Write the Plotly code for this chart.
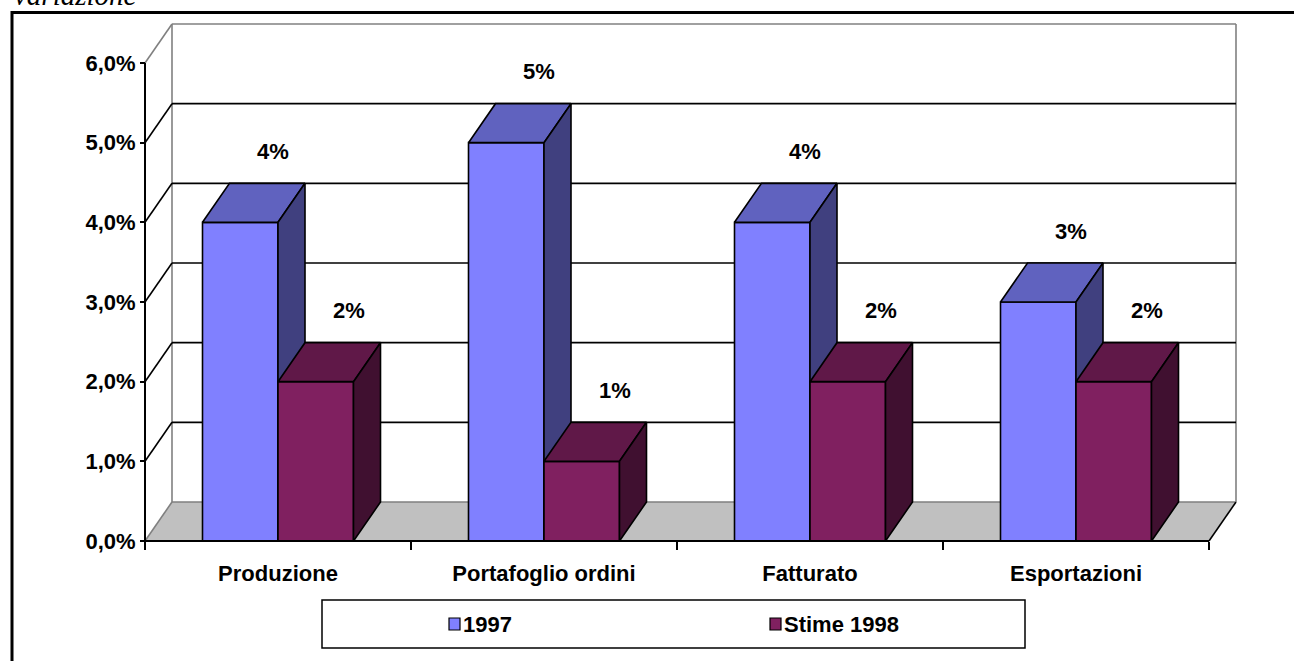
import plotly.graph_objects as go

# ---- data -------------------------------------------------------------
categories = ["Produzione", "Portafoglio ordini", "Fatturato", "Esportazioni"]
series_names = ["1997", "Stime 1998"]
values_1997 = [4, 5, 4, 3]
values_1998 = [2, 1, 2, 2]
y_ticks = [0, 1, 2, 3, 4, 5, 6]

# ---- styling / geometry -------------------------------------------------
W, H = 1294, 661
FONT = "Liberation Sans, Arial, sans-serif"

# pixel layout of the front plane of the chart
FRONT_L, FRONT_R = 145, 1209        # x of first / last category boundary
ZERO_PY, TOP_PY = 541, 63           # y of 0 % and 6 % on the front axis
PX_CAT = (FRONT_R - FRONT_L) / len(categories)
PX_UNIT = (ZERO_PY - TOP_PY) / y_ticks[-1]

# axis ranges so that the front plane lands where wanted
XR0 = -0.5 - FRONT_L / PX_CAT
XR1 = XR0 + W / PX_CAT
YR0 = -(H - ZERO_PY) / PX_UNIT
YR1 = YR0 + H / PX_UNIT

# depth of the pseudo-3D projection (in data units)
DX = 27 / PX_CAT
DY = 39 / PX_UNIT
BAR_W = 75.5 / PX_CAT

colors = {
    "1997": {"front": "#8080FF", "top": "#6062BF", "side": "#40407F"},
    "Stime 1998": {"front": "#802060", "top": "#601848", "side": "#401030"},
}
GRAY = "#808080"
FLOOR = "#C0C0C0"

fig = go.Figure()


def poly(xs, ys, fill, line="black", lw=1.6):
    fig.add_trace(go.Scatter(
        x=list(xs) + [xs[0]], y=list(ys) + [ys[0]], mode="lines",
        fill="toself", fillcolor=fill, line=dict(color=line, width=lw),
        hoverinfo="skip", showlegend=False))


def seg(x0, y0, x1, y1, color="black", lw=1.6):
    fig.add_trace(go.Scatter(
        x=[x0, x1], y=[y0, y1], mode="lines",
        line=dict(color=color, width=lw),
        hoverinfo="skip", showlegend=False))


xl_edge, xr_edge = -0.5, len(categories) - 0.5
ymax = y_ticks[-1]

# floor
poly([xl_edge, xr_edge, xr_edge + DX, xl_edge + DX], [0, 0, DY, DY], FLOOR, line=FLOOR, lw=0.1)
seg(xl_edge, 0, xl_edge + DX, DY, GRAY)
seg(xl_edge + DX, DY, xr_edge + DX, DY, GRAY)
seg(xr_edge, 0, xr_edge + DX, DY, "black")

# walls: vertical edges and gridlines
seg(xl_edge + DX, DY, xl_edge + DX, ymax + DY, GRAY)
seg(xr_edge + DX, DY, xr_edge + DX, ymax + DY, GRAY)
for v in y_ticks[1:]:
    c = GRAY if v == ymax else "black"
    seg(xl_edge, v, xl_edge + DX, v + DY, c)
    seg(xl_edge + DX, v + DY, xr_edge + DX, v + DY, c)

# bars (front, top and side faces)
annotations = []
for i, cat in enumerate(categories):
    for s, (name, vals) in enumerate(zip(series_names, [values_1997, values_1998])):
        v = vals[i]
        c = colors[name]
        xl = i - BAR_W + s * BAR_W
        xr = xl + BAR_W
        poly([xl, xr, xr, xl], [0, 0, v, v], c["front"])
        poly([xl, xr, xr + DX, xl + DX], [v, v, v + DY, v + DY], c["top"])
        poly([xr, xr + DX, xr + DX, xr], [0, DY, v + DY, v], c["side"])
        annotations.append(dict(
            x=(xl + xr) / 2 + DX + 6 / PX_CAT, y=v + DY + 32 / PX_UNIT,
            xref="x", yref="y", text=f"{v}%", showarrow=False,
            font=dict(family=FONT, size=22, color="black", weight="bold")))

# front axis lines
seg(xl_edge, 0, xr_edge, 0, "black", 2)
seg(xl_edge, 0, xl_edge, ymax, "black", 2)

# title (partially above the page)
annotations.append(dict(
    x=12 / W, y=1 + 5 / H, xref="paper", yref="paper", xanchor="left",
    yanchor="middle", text="variazione", showarrow=False,
    font=dict(family="Liberation Serif, Times New Roman, serif", size=29,
              style="italic", color="black")))

# legend
LEG = dict(x0=322, x1=1025, y0=600, y1=648)
items = [("1997", 449), ("Stime 1998", 770)]
shapes = [
    dict(type="rect", xref="paper", yref="paper",
         x0=12 / W, x1=1.2, y0=1 - 12.5 / H, y1=-0.2,
         line=dict(color="black", width=3), fillcolor="rgba(0,0,0,0)"),
    dict(type="rect", xref="paper", yref="paper",
         x0=LEG["x0"] / W, x1=LEG["x1"] / W, y0=1 - LEG["y0"] / H, y1=1 - LEG["y1"] / H,
         line=dict(color="black", width=1.5), fillcolor="white"),
]
leg_cy = (LEG["y0"] + LEG["y1"]) / 2
for name, px in items:
    shapes.append(dict(
        type="rect", xref="paper", yref="paper",
        x0=px / W, x1=(px + 11) / W, y0=1 - (leg_cy - 6) / H, y1=1 - (leg_cy + 6) / H,
        line=dict(color="black", width=1.2), fillcolor=colors[name]["front"]))
    annotations.append(dict(
        x=(px + 12) / W, y=1 - leg_cy / H, xref="paper", yref="paper",
        xanchor="left", yanchor="middle", text=name, showarrow=False,
        font=dict(family=FONT, size=22, color="black", weight="bold")))

tickfont = dict(family=FONT, size=22, color="black", weight="bold")

fig.update_layout(
    width=W, height=H, autosize=False,
    margin=dict(l=0, r=0, t=0, b=0, pad=0),
    paper_bgcolor="white", plot_bgcolor="white",
    showlegend=False,
    shapes=shapes, annotations=annotations,
    xaxis=dict(
        range=[XR0, XR1], domain=[0, 1], anchor="free", position=1 - ZERO_PY / H,
        tickmode="array", tickvals=list(range(len(categories))), ticktext=categories,
        ticks="", ticklabelstandoff=17, tickfont=tickfont,
        showgrid=False, zeroline=False, showline=False, fixedrange=True,
        minor=dict(tickmode="array", tickvals=[k - 0.5 for k in range(len(categories) + 1)],
                   ticks="outside", ticklen=8, tickwidth=2, tickcolor="black",
                   showgrid=False),
    ),
    yaxis=dict(
        range=[YR0, YR1], domain=[0, 1], anchor="free", position=FRONT_L / W,
        tickmode="array", tickvals=y_ticks,
        ticktext=[f"{v:.1f}%".replace(".", ",") for v in y_ticks],
        ticks="outside", ticklen=5, tickwidth=2, tickcolor="black", tickfont=tickfont,
        showgrid=False, zeroline=False, showline=False, fixedrange=True,
    ),
)

fig.write_html("out.html")
